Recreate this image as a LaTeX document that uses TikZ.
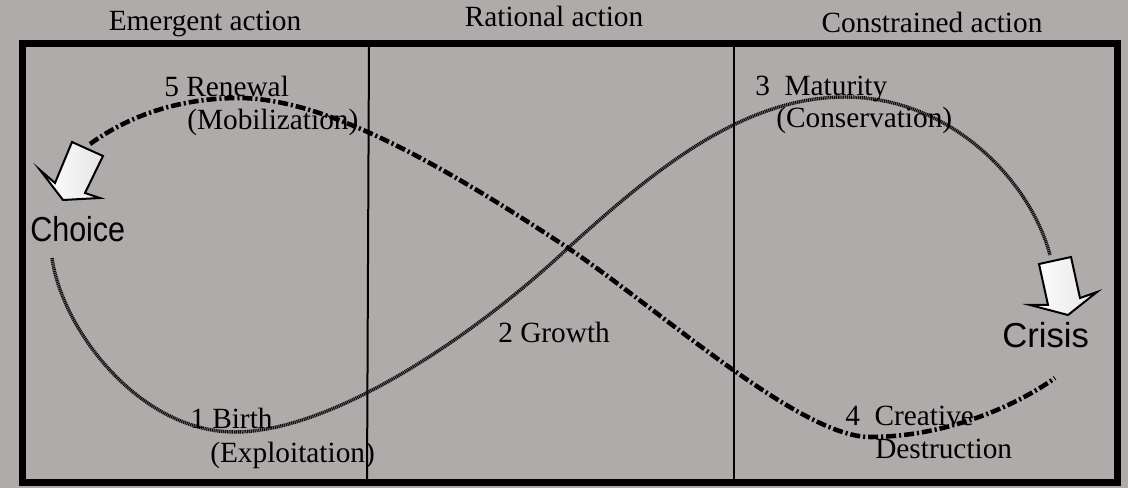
\documentclass[tikz,border=0pt]{standalone}
\usepackage{fontspec}
\setmainfont{Liberation Serif}
\newfontfamily\sansfam{Liberation Sans}
\definecolor{bg}{RGB}{175,171,170}
\begin{document}
\begin{tikzpicture}[x=0.75pt,y=-0.75pt,
  lbl/.style={anchor=base west,inner sep=0pt,font=\fontsize{22}{24}\selectfont},
  hdr/.style={anchor=base,inner sep=0pt,font=\fontsize{22}{24}\selectfont},
  big/.style={anchor=base west,inner sep=0pt,font=\sansfam\fontsize{26}{28}\selectfont},
  frame/.style={line width=5.25pt},
  divider/.style={line width=1.5pt},
  dotcurve/.style={line width=2.6pt,black!95,dash pattern=on 0.9pt off 0.5pt},
  dashdotcurve/.style={line width=3.4pt,black,dash pattern=on 7.5pt off 2.2pt on 1.6pt off 2.2pt},
  blockarrow/.style={draw=black,line width=1.5pt,line join=miter,left color=white,right color=black!10}
]
\fill[bg] (0,0) rectangle (1128,488);
\useasboundingbox (0,0) rectangle (1128,488);

% headers
\node[hdr] (h1) at (205,31) {Emergent action};
\node[hdr] (h2) at (554,27) {Rational action};
\node[hdr] (h3) at (932,33) {Constrained action};

% frame and dividers
\coordinate (d1t) at (369,44);
\coordinate (d1b) at (367,482);
\coordinate (d2t) at (734,44);
\coordinate (d2b) at (734,482);
\draw[divider] (d1t) -- (d1b);
\draw[divider] (d2t) -- (d2b);
\draw[frame] (22.5,44) rectangle (1117,482);

% dotted curve
\coordinate (p0) at (52,258);
\coordinate (p1) at (235,432);
\coordinate (pc) at (568,248);
\coordinate (p3) at (845,97);
\coordinate (p4) at (1050,255);
\draw[dotcurve] (p0) .. controls (62,330) and (140,432) .. (p1)
  .. controls (330,432) and (470,340) .. (pc)
  .. controls (650,174) and (740,97) .. (p3)
  .. controls (950,97) and (1030,180) .. (p4);

% dash-dot curve
\coordinate (q0) at (90,144);
\coordinate (q1) at (240,98);
\coordinate (q3) at (870,437);
\coordinate (q4) at (1055,378);
\draw[dashdotcurve] (q0) .. controls (130,115) and (180,98) .. (q1)
  .. controls (330,99) and (450,170) .. (pc)
  .. controls (660,310) and (800,437) .. (q3)
  .. controls (940,437) and (1010,410) .. (q4);

% block arrows
\draw[blockarrow] (72,142) -- (103,156) -- (85,193) -- (100,198) -- (63,200) -- (40,170) -- (55,183) -- cycle;
\draw[blockarrow] (1039,264) -- (1071,257) -- (1080,298) -- (1097,292) -- (1068,315) -- (1030,305) -- (1048,305) -- cycle;

% big labels
\node[big] (choice) at (30,242) {\scalebox{0.88}[1]{Choice}};
\node[big] (crisis) at (1002,348) {Crisis};

% phase labels
\node[lbl] (l5a) at (164,97) {5 Renewal};
\node[lbl] (l5b) at (187,130) {(Mobilization)};
\node[lbl] (l3a) at (755,96) {3\ \ Maturity};
\node[lbl] (l3b) at (776,128) {(Conservation)};
\node[lbl] (l2) at (498,342) {2 Growth};
\node[lbl] (l1a) at (190,428) {1 Birth};
\node[lbl] (l1b) at (210,462) {(Exploitation)};
\node[lbl] (l4a) at (845,425) {4\ \ Creative};
\node[lbl] (l4b) at (875,458) {Destruction};
\end{tikzpicture}
\end{document}
